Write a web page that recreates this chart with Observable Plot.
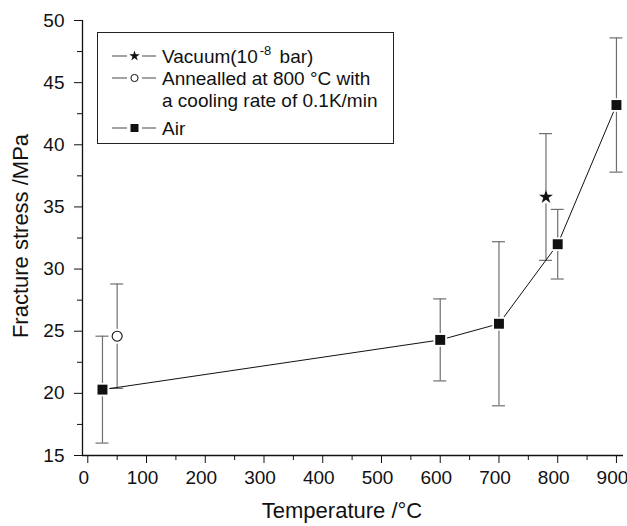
<!DOCTYPE html>
<html>
<head>
<meta charset="utf-8">
<script src="https://cdn.jsdelivr.net/npm/d3@7"></script>
<script src="https://cdn.jsdelivr.net/npm/@observablehq/plot@0.6"></script>
<style>
  html, body { margin: 0; padding: 0; background: #fff; }
  svg { display: block; }
</style>
</head>
<body>
<div id="chart"></div>
<script>
// ---- data ----
const airT = [25, 600, 700, 800, 900];
const airY = [20.3, 24.3, 25.6, 32.0, 43.2];
const airErr = [4.3, 3.3, 6.6, 2.8, 5.4];

const vacT = [780];
const vacY = [35.8];
const vacErr = [5.1];

const annT = [50];
const annY = [24.6];
const annErr = [4.2];

const xMajor = [0, 100, 200, 300, 400, 500, 600, 700, 800, 900];
const xMinor = [50, 150, 250, 350, 450, 550, 650, 750, 850];
const yMajor = [15, 20, 25, 30, 35, 40, 45, 50];
const yMinor = [17.5, 22.5, 27.5, 32.5, 37.5, 42.5, 47.5];

const xTitle = "Temperature /°C";
const yTitle = "Fracture stress /MPa";
const legendLabels = ["Vacuum(10", "-8", " bar)", "Annealled at 800 °C with", "a cooling rate of 0.1K/min", "Air"];

// ---- build tables ----
const mk = (T, Y, E) => T.map((t, i) => ({t, y: Y[i], lo: Y[i] - E[i], hi: Y[i] + E[i]}));
const air = mk(airT, airY, airErr);
const vac = mk(vacT, vacY, vacErr);
const ann = mk(annT, annY, annErr);
const all = [...air, ...vac, ...ann];

const xDom = [-9, 912];
const yDom = [15, 50];
const errColor = "#6f6f6f";

const plot = Plot.plot({
  width: 627,
  height: 526,
  marginLeft: 82,
  marginRight: 4,
  marginTop: 20,
  marginBottom: 71,
  style: {fontFamily: "'Liberation Sans', Arial, sans-serif", fontSize: "19px", color: "#111", background: "#fff"},
  x: {domain: xDom, label: null},
  y: {domain: yDom, label: null},
  marks: [
    Plot.axisX({ticks: xMajor, tickSize: 8, text: null, label: null}),
    Plot.axisX({ticks: xMajor, tickSize: 0, tickPadding: 15, tickFormat: d => d, label: null, fontSize: 19, dx: -4}),
    Plot.axisX({ticks: xMinor, tickSize: 5, text: null, label: null}),
    Plot.axisY({ticks: yMajor, tickSize: 8, tickPadding: 10, tickFormat: d => d, label: null, fontSize: 19}),
    Plot.axisY({ticks: yMinor, tickSize: 5, text: null, label: null}),
    Plot.ruleY([yDom[0]], {x1: xDom[0], x2: xDom[1], stroke: "#111", strokeWidth: 1.3}),
    Plot.ruleX([xDom[0]], {y1: yDom[0], y2: yDom[1], stroke: "#111", strokeWidth: 1.3}),
    // error bars
    Plot.ruleX(all, {x: "t", y1: "lo", y2: "hi", stroke: errColor, strokeWidth: 1.2}),
    Plot.ruleY(all, {y: "hi", x1: "t", x2: "t", insetLeft: -6.5, insetRight: -6.5, stroke: errColor, strokeWidth: 1.2}),
    Plot.ruleY(all, {y: "lo", x1: "t", x2: "t", insetLeft: -6.5, insetRight: -6.5, stroke: errColor, strokeWidth: 1.2}),
    // air line
    Plot.line(air, {x: "t", y: "y", stroke: "#111", strokeWidth: 1}),
    // white halos
    Plot.dot(air, {x: "t", y: "y", symbol: "square", r: 7.6, fill: "#fff", stroke: "none"}),
    Plot.dot(vac, {x: "t", y: "y", symbol: "circle", r: 6.5, fill: "#fff", stroke: "none"}),
    Plot.dot(ann, {x: "t", y: "y", symbol: "circle", r: 7.5, fill: "#fff", stroke: "none"}),
    // markers
    Plot.dot(air, {x: "t", y: "y", symbol: "square", r: 5.6, fill: "#111", stroke: "none"}),
    Plot.dot(vac, {x: "t", y: "y", symbol: "star", r: 4.4, fill: "#111", stroke: "none"}),
    Plot.dot(ann, {x: "t", y: "y", symbol: "circle", r: 5, fill: "#fff", stroke: "#111", strokeWidth: 1.1})
  ]
});

document.getElementById("chart").appendChild(plot);

// ---- axis titles and legend (decorations) ----
const svg = d3.select(plot);
const font = "'Liberation Sans', Arial, sans-serif";
svg.append("text")
  .attr("x", 342).attr("y", 518)
  .attr("text-anchor", "middle")
  .attr("font-family", font).attr("font-size", 22).attr("fill", "#111")
  .text(xTitle);
svg.append("text")
  .attr("transform", "translate(28,236) rotate(-90)")
  .attr("text-anchor", "middle")
  .attr("font-family", font).attr("font-size", 22).attr("fill", "#111")
  .text(yTitle);

const lg = svg.append("g").attr("font-family", font).attr("font-size", 19).attr("fill", "#111").attr("text-anchor", "start");
lg.append("rect").attr("x", 97.5).attr("y", 32.5).attr("width", 296).attr("height", 111)
  .attr("fill", "#fff").attr("stroke", "#222").attr("stroke-width", 1);

function sample(cy, kind) {
  lg.append("line").attr("x1", 112).attr("x2", 127).attr("y1", cy).attr("y2", cy).attr("stroke", "#666").attr("stroke-width", 1.2);
  lg.append("line").attr("x1", 142).attr("x2", 156).attr("y1", cy).attr("y2", cy).attr("stroke", "#666").attr("stroke-width", 1.2);
  const cx = 134.5;
  if (kind === "star") {
    lg.append("path").attr("d", d3.symbol(d3.symbolStar, 34)()).attr("transform", `translate(${cx},${cy})`).attr("fill", "#111");
  } else if (kind === "circle") {
    lg.append("circle").attr("cx", cx).attr("cy", cy).attr("r", 3.6).attr("fill", "#fff").attr("stroke", "#111").attr("stroke-width", 1);
  } else {
    lg.append("rect").attr("x", cx - 4).attr("y", cy - 4).attr("width", 8).attr("height", 8).attr("fill", "#111");
  }
}
sample(56, "star");
sample(78, "circle");
sample(128, "square");

const t1 = lg.append("text").attr("x", 162).attr("y", 63);
t1.append("tspan").text(legendLabels[0]);
t1.append("tspan").attr("dx", 2).attr("dy", -8).attr("font-size", 13).text(legendLabels[1]);
t1.append("tspan").attr("dx", 3).attr("dy", 8).text(legendLabels[2]);
lg.append("text").attr("x", 162).attr("y", 85).text(legendLabels[3]);
lg.append("text").attr("x", 162).attr("y", 107).text(legendLabels[4]);
lg.append("text").attr("x", 162).attr("y", 135).text(legendLabels[5]);
</script>
</body>
</html>
